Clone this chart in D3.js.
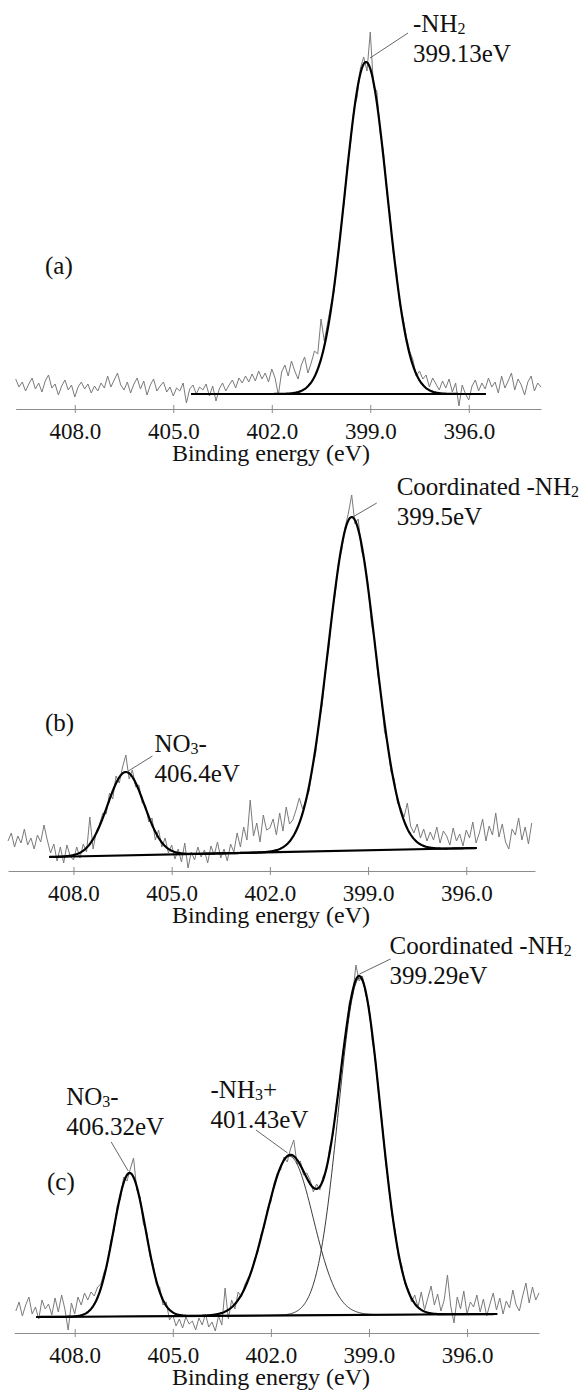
<!DOCTYPE html>
<html>
<head>
<meta charset="utf-8">
<title>N 1s XPS spectra</title>
<style>
  body { margin: 0; background: #fff; }
  .raw { fill: none; stroke: #7a7a7a; stroke-width: 1; }
  .fit { fill: none; stroke: #000; stroke-width: 2.2; }
  .comp { fill: none; stroke: #222; stroke-width: 0.9; }
  .axis path, .axis line { stroke: #8c8c8c; stroke-width: 1; }
  .lead { stroke: #555; stroke-width: 0.9; }
</style>
</head>
<body>
<svg id="chart" width="586" height="1390"></svg>
<script src="https://cdn.jsdelivr.net/npm/d3@7"></script>
<script>
var energyStep = 0.1;
var tickValues = [408, 405, 402, 399, 396];
var axisTitle = "Binding energy (eV)";

// (a) measured spectrum, one value per 0.1 eV starting at rawStartA
var rawStartA = 409.8;
var rawA = [
  30,22,27,18,25,31,20,26,17,28,   // 409.8
  34,21,25,14,23,29,19,24,12,22,   // 408.8
  27,20,25,16,23,18,26,21,33,22,   // 407.8
  29,36,24,19,27,16,25,31,20,28,   // 406.8
  14,24,30,18,23,27,17,22,13,21,   // 405.8
  18,26,6,20,24,15,22,19,25,13,    // 404.8
  23,8,20,26,18,24,29,21,31,26,    // 403.8
  33,27,35,28,38,30,36,27,40,31,   // 402.8
  14,37,44,33,48,38,30,44,52,36,   // 401.8
  46,58,55,90,68,86,104,118,152,180,        // 400.8
  205,244,266,300,312,341,352,338,377,322,  // 399.8
  318,276,258,218,194,156,138,104,91,72,    // 398.8
  58,49,33,38,30,34,22,31,25,19,   // 397.8
  28,21,30,17,26,3,24,15,9,23,     // 396.8
  29,18,26,20,31,22,27,16,33,21,   // 395.8
  28,36,19,30,24,14,27,33,18,26,   // 394.8
  22                               // 393.8
];
var peakCenterA = [399.13];
var peakHeightA = [332];
var peakFwhmA = [1.52];
var fitBaseA = [[404.46, 15], [395.48, 15]];
var labelsA = [{peak: 0, name: ["-NH", "2", ""], value: "399.13eV"}];

// (b)
var rawStartB = 410.0;
var rawB = [
  30,38,24,35,28,42,26,33,22,36,   // 410.0
  29,46,31,18,27,10,24,8,26,15,    // 409.0
  11,24,13,27,19,54,22,40,47,58,   // 408.0
  57,78,72,95,88,104,116,92,101,84,  // 407.0
  86,68,66,49,53,31,41,24,33,18,   // 406.0
  26,12,22,9,28,3,19,11,24,14,     // 405.0
  21,8,25,16,29,13,22,10,27,19,    // 404.0
  38,24,44,31,71,35,48,29,56,41,   // 403.0
  43,52,36,58,40,64,47,51,61,73,   // 402.0
  62,71,80,104,118,148,166,202,223,258,     // 401.0
  278,309,322,344,358,376,347,352,320,309,  // 400.0
  286,248,231,196,175,140,127,99,92,68,     // 399.0
  63,54,68,45,38,47,33,42,30,39,   // 398.0
  31,44,28,40,35,26,43,30,37,25,   // 397.0
  41,33,49,28,38,52,30,45,36,58,   // 396.0
  34,47,29,22,42,36,53,31,44,27,   // 395.0
  48                               // 394.0
];
var peakCenterB = [406.4, 399.5];
var peakHeightB = [83.4, 333.6];
var peakFwhmB = [1.32, 1.70];
var fitBaseB = [[408.74, 14], [395.68, 23]];
var labelsB = [
  {peak: 0, name: ["NO", "3", "-"], value: "406.4eV"},
  {peak: 1, name: ["Coordinated -NH", "2", ""], value: "399.5eV"}
];

// (c)
var rawStartC = 409.8;
var rawC = [
  22,31,17,28,36,19,26,14,33,24,   // 409.8
  29,18,35,21,38,24,3,30,19,36,    // 408.8
  28,40,33,41,37,46,49,61,68,92,   // 407.8
  101,127,134,156,152,164,175,143,136,109,  // 406.8
  102,77,69,48,46,28,31,13,18,7,   // 405.8
  14,5,16,9,12,3,15,8,19,6,        // 404.8
  11,2,17,8,45,14,33,24,41,36,     // 403.8
  48,55,60,74,81,99,106,125,131,150,        // 402.8
  160,163,176,171,184,193,169,172,158,160,  // 401.8
  153,141,149,143,157,162,186,198,229,247,  // 400.8
  281,298,331,337,368,352,357,338,327,292,  // 399.8
  275,236,212,173,151,118,103,76,68,49,     // 398.8
  44,31,38,26,41,23,35,47,28,39,   // 397.8
  22,33,58,27,10,36,24,42,19,31,   // 396.8
  26,38,21,34,17,29,40,23,35,19,   // 395.8
  32,25,43,28,22,37,50,30,46,33,   // 394.8
  40                               // 393.8
];
var peakCenterC = [406.32, 401.43, 399.29];
var peakHeightC = [143.4, 159, 336.7];
var peakFwhmC = [1.15, 1.72, 1.52];
var fitBaseC = [[409.18, 16], [395.08, 19]];
var labelsC = [
  {peak: 0, name: ["NO", "3", "-"], value: "406.32eV"},
  {peak: 1, name: ["-NH", "3", "+"], value: "401.43eV"},
  {peak: 2, name: ["Coordinated -NH", "2", ""], value: "399.29eV"}
];

// layout
var axisY = 409;
var serif = "'Liberation Serif', 'Times New Roman', 'DejaVu Serif', serif";
var panels = [
  {tag: "(a)", tagXY: [45, 274], top: 0, xDomain: [409.8, 393.8], xRange: [15.7, 541],
   raw: rawA, rawStart: rawStartA, centers: peakCenterA, heights: peakHeightA, fwhms: peakFwhmA,
   base: fitBaseA, labels: labelsA, comps: false,
   notes: [{dx: 47, dy: -30, a: [4, -4], b: [42, -29]}]},
  {tag: "(b)", tagXY: [45, 269], top: 462, xDomain: [410.0, 393.9], xRange: [8, 535],
   raw: rawB, rawStart: rawStartB, centers: peakCenterB, heights: peakHeightB, fwhms: peakFwhmB,
   base: fitBaseB, labels: labelsB, comps: false,
   notes: [{dx: 28.6, dy: -20, a: [1, 0], b: [26.6, -16]},
           {dx: 45, dy: -22, a: [1, 0], b: [25, -14]}]},
  {tag: "(c)", tagXY: [47, 266], top: 924, xDomain: [409.85, 393.8], xRange: [14.2, 539],
   raw: rawC, rawStart: rawStartC, centers: peakCenterC, heights: peakHeightC, fwhms: peakFwhmC,
   base: fitBaseC, labels: labelsC, comps: true,
   notes: [{dx: -63.4, dy: -68, a: [-1.4, -2], b: [-18.4, -31]},
           {dx: -79, dy: -57, a: [-2, -2], b: [-33.6, -25]},
           {dx: 30, dy: -22, a: [0, -2], b: [31, -17]}]}
];

function gauss(e, c, h, w) {
  return h * Math.exp(-4 * Math.LN2 * (e - c) * (e - c) / (w * w));
}

var svg = d3.select("#chart");

panels.forEach(function(p) {
  var g = svg.append("g").attr("transform", "translate(0," + p.top + ")");
  var x = d3.scaleLinear().domain(p.xDomain).range(p.xRange);
  var y = d3.scaleLinear().domain([0, 400]).range([axisY, axisY - 400]);
  var line = d3.line().x(function(d) { return x(d[0]); }).y(function(d) { return y(d[1]); });

  var baseAt = d3.scaleLinear().domain([p.base[0][0], p.base[1][0]]).range([p.base[0][1], p.base[1][1]]);
  var envelope = function(e) {
    var s = baseAt(e);
    p.centers.forEach(function(c, i) { s += gauss(e, c, p.heights[i], p.fwhms[i]); });
    return s;
  };

  // raw spectrum
  var rawPts = p.raw.map(function(v, i) { return [p.rawStart - i * energyStep, v]; });
  g.append("path").attr("class", "raw").attr("d", line(rawPts));

  // fit grid
  var grid = d3.range(p.base[0][0], p.base[1][0], -0.02);
  grid.push(p.base[1][0]);

  if (p.comps) {
    p.centers.forEach(function(c, i) {
      var pts = grid.map(function(e) { return [e, baseAt(e) + gauss(e, c, p.heights[i], p.fwhms[i])]; });
      g.append("path").attr("class", "comp").attr("d", line(pts));
    });
  }
  g.append("path").attr("class", "fit")
    .attr("d", line([[p.base[0][0], p.base[0][1]], [p.base[1][0], p.base[1][1]]]));
  g.append("path").attr("class", "fit")
    .attr("d", line(grid.map(function(e) { return [e, envelope(e)]; })));

  // axis
  var ax = g.append("g").attr("class", "axis")
    .attr("transform", "translate(0," + axisY + ")")
    .call(d3.axisBottom(x).tickValues(tickValues).tickFormat(d3.format(".1f"))
      .tickSizeOuter(0).tickSizeInner(4));
  ax.attr("font-family", serif).attr("font-size", 23);
  ax.selectAll(".tick line").attr("y1", -4).attr("y2", 4);
  ax.selectAll(".tick text").attr("y", 30).attr("dy", 0);

  g.append("text").attr("x", 271).attr("y", axisY + 52)
    .attr("text-anchor", "middle").attr("font-size", 24).text(axisTitle);

  g.append("text").attr("x", p.tagXY[0]).attr("y", p.tagXY[1])
    .attr("font-size", 25).text(p.tag);

  // peak annotations
  p.labels.forEach(function(lb, k) {
    var n = p.notes[k];
    var c = p.centers[lb.peak];
    var ax0 = x(c), ay0 = y(envelope(c));
    g.append("line").attr("class", "lead")
      .attr("x1", ax0 + n.a[0]).attr("y1", ay0 + n.a[1])
      .attr("x2", ax0 + n.b[0]).attr("y2", ay0 + n.b[1]);
    var t = g.append("text").attr("x", ax0 + n.dx).attr("y", ay0 + n.dy).attr("font-size", 25);
    t.append("tspan").text(lb.name[0]);
    t.append("tspan").attr("dy", 2).attr("font-size", 16).text(lb.name[1]);
    t.append("tspan").attr("dy", -2).text(lb.name[2]);
    g.append("text").attr("x", ax0 + n.dx).attr("y", ay0 + n.dy + 30)
      .attr("font-size", 25).text(lb.value);
  });
});

svg.selectAll("text").attr("font-family", serif).attr("fill", "#111");
</script>
</body>
</html>
